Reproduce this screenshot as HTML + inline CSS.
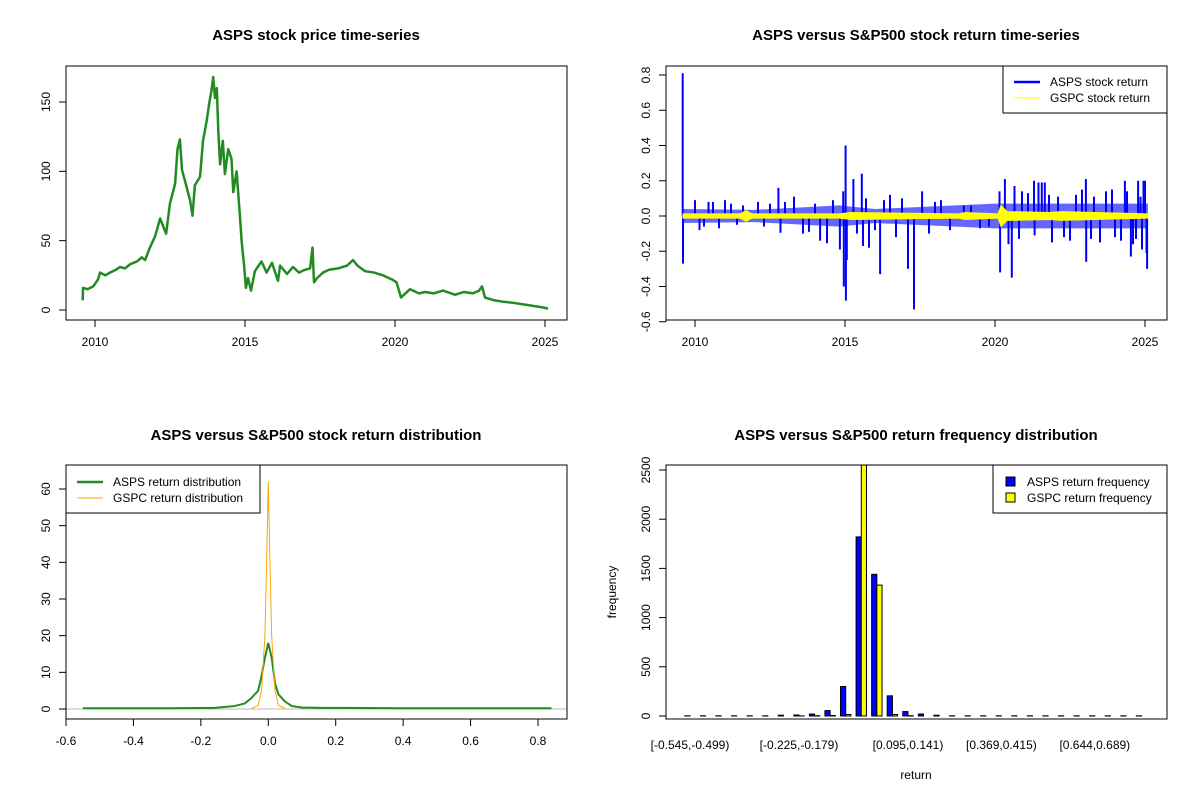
<!DOCTYPE html>
<html><head><meta charset="utf-8"><style>
html,body{margin:0;padding:0;background:#fff}
svg{display:block;font-family:"Liberation Sans",Arial,sans-serif}
</style></head><body>
<svg id="c" width="1200" height="800" viewBox="0 0 1200 800"></svg>
<script>
// ---- Panel 1: ASPS price ----
const priceYears=[2009.59,2009.6,2009.75,2009.94,2010.1,2010.17,2010.35,2010.5,2010.7,2010.83,2011.0,2011.17,2011.4,2011.56,2011.67,2011.83,2012.0,2012.17,2012.37,2012.5,2012.67,2012.75,2012.83,2012.9,2013.0,2013.17,2013.25,2013.33,2013.5,2013.6,2013.72,2013.8,2013.88,2013.94,2014.0,2014.06,2014.11,2014.17,2014.26,2014.33,2014.44,2014.55,2014.61,2014.72,2014.83,2014.89,2014.97,2015.03,2015.1,2015.2,2015.33,2015.55,2015.72,2015.9,2016.1,2016.17,2016.4,2016.6,2016.8,2017.0,2017.17,2017.25,2017.3,2017.4,2017.6,2017.8,2018.1,2018.4,2018.6,2018.75,2019.0,2019.3,2019.6,2019.9,2020.05,2020.2,2020.5,2020.8,2021.0,2021.3,2021.6,2022.0,2022.3,2022.6,2022.8,2022.9,2023.0,2023.3,2023.6,2024.0,2024.3,2024.6,2024.9,2025.1];
const priceVals=[7,16,15,17,22,27,25,27,29,31,30,33,35,38,36,45,53,66,55,77,91,116,123,101,93,79,68,90,96,122,136,148,158,168,153,160,129,105,122,98,116,109,85,100,68,49,32,16,23,14,28,35,27,34,21,32,26,31,27,29,30,45,20,23,27,29,30,32,36,32,28,27,25,22,20,9,15,12,13,12,14,11,13,12,14,17,9,7,6,5,4,3,2,1];
// ---- Panel 2: returns ----
const spikeYears=[2009.59,2009.6,2010.0,2010.3,2010.6,2011.0,2011.4,2012.1,2012.78,2012.85,2013.3,2013.6,2014.17,2014.4,2014.83,2014.94,2014.96,2015.02,2015.03,2015.06,2015.28,2015.56,2015.6,2015.8,2016.17,2016.5,2016.7,2017.1,2017.3,2017.57,2018.2,2018.96,2019.5,2020.15,2020.17,2020.33,2020.45,2020.56,2020.65,2020.9,2021.3,2021.32,2021.45,2021.56,2021.66,2021.9,2022.1,2022.5,2022.7,2023.03,2023.04,2023.3,2023.5,2023.9,2024.2,2024.33,2024.53,2024.6,2024.77,2024.85,2024.9,2024.95,2025.0,2025.07,2025.05,
 2010.15,2010.45,2010.8,2011.2,2011.6,2012.3,2012.5,2013.0,2013.8,2014.0,2014.6,2015.4,2015.7,2016.0,2016.3,2016.9,2017.8,2018.0,2018.5,2019.2,2019.8,2020.8,2021.1,2021.8,2022.3,2022.9,2023.2,2023.7,2024.0,2024.4,2024.7];
const spikeVals=[0.81,-0.27,0.09,-0.06,0.08,0.09,-0.05,0.08,0.16,-0.095,0.11,-0.1,-0.14,-0.155,-0.19,0.14,-0.40,0.40,-0.48,-0.25,0.21,0.24,-0.17,-0.18,-0.33,0.12,-0.12,-0.30,-0.53,0.14,0.09,0.06,-0.07,0.14,-0.32,0.21,-0.16,-0.35,0.17,0.14,0.20,-0.11,0.19,0.19,0.19,-0.15,0.11,-0.14,0.12,0.21,-0.26,0.11,-0.15,0.15,-0.14,0.2,-0.23,-0.16,0.2,0.11,-0.19,0.2,0.2,-0.30,-0.21,
 -0.08,0.08,-0.07,0.07,0.06,-0.06,0.07,0.08,-0.09,0.07,0.09,-0.1,0.1,-0.08,0.09,0.1,-0.1,0.08,-0.08,0.06,-0.06,-0.13,0.13,0.12,-0.12,0.15,-0.13,0.14,-0.12,0.14,-0.13];
const bandYears=[2009.6,2012.0,2014.8,2016.0,2020.0,2025.1];
const bandAmp=[0.04,0.035,0.06,0.04,0.07,0.07];
const gYears=[2009.6,2011.5,2011.7,2011.9,2014.8,2015.2,2018.8,2019.0,2020.1,2020.2,2020.4,2021.8,2022.2,2025.1];
const gAmp=[0.012,0.012,0.03,0.012,0.012,0.02,0.012,0.02,0.012,0.06,0.025,0.02,0.025,0.012];
// ---- Panel 3: densities ----
const dAx=[-0.55,-0.3,-0.16,-0.1,-0.07,-0.05,-0.03,-0.02,-0.01,0,0.01,0.02,0.03,0.05,0.07,0.1,0.16,0.21,0.4,0.84];
const dAy=[0.2,0.2,0.3,0.8,1.5,3,5,9,14,18,14,7,4,2,0.8,0.4,0.3,0.3,0.2,0.2];
const dGx=[-0.05,-0.03,-0.02,-0.01,-0.005,0,0.005,0.01,0.02,0.03,0.05];
const dGy=[0.1,1,5,20,40,62,40,20,5,1,0.1];
// ---- Panel 4: histogram ----
const binLabels=["[-0.545,-0.499)","","","","","","","[-0.225,-0.179)","","","","","","","[0.095,0.141)","","","","","","[0.369,0.415)","","","","","","[0.644,0.689)","","",""];
const freqA=[2,2,2,2,2,2,8,10,20,55,300,1820,1440,205,45,20,8,2,2,2,2,2,2,2,2,2,2,2,2,2];
const freqG=[0,0,0,0,0,0,0,1,3,5,15,2900,1330,15,3,0,0,0,0,0,0,0,0,0,0,0,0,0,0,0];

const svg=document.getElementById('c');const NS='http://www.w3.org/2000/svg';
function mk(tag,attrs,parent,text){const e=document.createElementNS(NS,tag);for(const k in attrs)e.setAttribute(k,attrs[k]);if(text!==undefined)e.textContent=text;(parent||svg).appendChild(e);return e;}
function lin(d0,d1,r0,r1){return v=>r0+(v-d0)*(r1-r0)/(d1-d0);}
function panel(name){const g=mk('g',{});return g;}
function title(g,x,y,t){const e=mk('text',{x:x,y:y,'text-anchor':'middle','font-size':15,'font-weight':'bold'},g,t);}
function box(g,x0,y0,x1,y1){const e=mk('rect',{x:x0,y:y0,width:x1-x0,height:y1-y0,fill:'none',stroke:'#000','stroke-width':1},g);}
function xaxis(g,ticks,fx,y,labels){const a=mk('g',{},g);
 mk('line',{x1:fx(ticks[0]),x2:fx(ticks[ticks.length-1]),y1:y,y2:y,stroke:'#000'},a);
 ticks.forEach((t,i)=>{mk('line',{x1:fx(t),x2:fx(t),y1:y,y2:y+7,stroke:'#000'},a);const e=mk('text',{x:fx(t),y:y+26,'text-anchor':'middle','font-size':12},a,labels[i]);});}
function yaxis(g,ticks,fy,x,labels){const a=mk('g',{},g);
 mk('line',{x1:x,x2:x,y1:fy(ticks[0]),y2:fy(ticks[ticks.length-1]),stroke:'#000'},a);
 ticks.forEach((t,i)=>{mk('line',{x1:x,x2:x-7,y1:fy(t),y2:fy(t),stroke:'#000'},a);const e=mk('text',{x:0,y:0,'text-anchor':'middle','font-size':12,transform:`translate(${x-16},${fy(t)}) rotate(-90)`},a,labels[i]);});}
const years=[2010,2015,2020,2025];

// Panel 1
{const g=panel('price-panel');title(g,316,40,'ASPS stock price time-series');
 const fx=lin(2010,2025,95,545),fy=lin(0,150,310,102);
 const p=mk('polyline',{points:priceYears.map((y,i)=>fx(y)+','+fy(priceVals[i])).join(' '),fill:'none',stroke:'#228B22','stroke-width':2.5,'stroke-linejoin':'round'},g);
 
 box(g,66,66,567,320);xaxis(g,years,fx,320,years.map(String));yaxis(g,[0,50,100,150],fy,66,['0','50','100','150']);}

// Panel 2
{const g=panel('returns-panel');title(g,916,40,'ASPS versus S&P500 stock return time-series');
 const fx=lin(2010,2025,695,1145),fy=lin(0,0.8,216,75);
 const up=bandYears.map((y,i)=>fx(y)+','+fy(bandAmp[i])),dn=bandYears.slice().reverse().map((y,i)=>fx(y)+','+fy(-bandAmp[bandAmp.length-1-i]));
 const b=mk('polygon',{points:up.concat(dn).join(' '),fill:'#0000FF','fill-opacity':0.6},g);
 spikeYears.forEach((y,i)=>{const l=mk('line',{x1:fx(y),x2:fx(y),y1:fy(0),y2:fy(spikeVals[i]),stroke:'#0000FF','stroke-width':2},g);});
 const gu=gYears.map((y,i)=>fx(y)+','+fy(gAmp[i])),gd=gYears.slice().reverse().map((y,i)=>fx(y)+','+fy(-gAmp[gAmp.length-1-i]));
 const yb=mk('polygon',{points:gu.concat(gd).join(' '),fill:'#FFFF00',stroke:'#FFFF00','stroke-width':1},g);
 box(g,666,66,1167,320);xaxis(g,years,fx,320,years.map(String));
 const yt=[-0.6,-0.4,-0.2,0,0.2,0.4,0.6,0.8];yaxis(g,yt,fy,666,yt.map(v=>v.toFixed(1)));
 const lg=mk('g',{},g);
 mk('rect',{x:1003,y:66,width:164,height:47,fill:'#fff',stroke:'#000'},lg);
 mk('line',{x1:1014,x2:1040,y1:82,y2:82,stroke:'#0000FF','stroke-width':2.5},lg);mk('text',{x:1050,y:86,'font-size':12},lg,'ASPS stock return');
 mk('line',{x1:1014,x2:1040,y1:98,y2:98,stroke:'#FFFF00','stroke-width':1},lg);mk('text',{x:1050,y:102,'font-size':12},lg,'GSPC stock return');}

// Panel 3
{const g=panel('density-panel');title(g,316,440,'ASPS versus S&P500 stock return distribution');
 const fx=lin(-0.6,0.8,66,538),fy=lin(0,60,709,489);
 const z=mk('line',{x1:66,x2:567,y1:fy(0),y2:fy(0),stroke:'#bbb'},g);
 const a=mk('polyline',{points:dAx.map((x,i)=>fx(x)+','+fy(dAy[i])).join(' '),fill:'none',stroke:'#228B22','stroke-width':2},g);
 const o=mk('polyline',{points:dGx.map((x,i)=>fx(x)+','+fy(dGy[i])).join(' '),fill:'none',stroke:'#FFA500','stroke-width':1},g);
 box(g,66,465,567,719);const xt=[-0.6,-0.4,-0.2,0,0.2,0.4,0.6,0.8];xaxis(g,xt,fx,719,xt.map(v=>v.toFixed(1)));
 const yt=[0,10,20,30,40,50,60];yaxis(g,yt,fy,66,yt.map(String));
 const lg=mk('g',{},g);
 mk('rect',{x:66,y:465,width:194,height:48,fill:'#fff',stroke:'#000'},lg);
 mk('line',{x1:77,x2:103,y1:482,y2:482,stroke:'#228B22','stroke-width':2.5},lg);mk('text',{x:113,y:486,'font-size':12},lg,'ASPS return distribution');
 mk('line',{x1:77,x2:103,y1:498,y2:498,stroke:'#FFA500','stroke-width':1},lg);mk('text',{x:113,y:502,'font-size':12},lg,'GSPC return distribution');}

// Panel 4
{const g=panel('histogram-panel');title(g,916,440,'ASPS versus S&P500 return frequency distribution');
 const fc=i=>690+15.57*i,bw=5.19,fy=lin(0,2500,716,470);
 const clip=mk('clipPath',{id:'hc'},g);mk('rect',{x:666,y:465,width:501,height:254},clip);
 const bars=mk('g',{'clip-path':'url(#hc)'},g);
 freqA.forEach((v,i)=>{const r=mk('rect',{x:fc(i)-bw,y:fy(v),width:bw,height:fy(0)-fy(v),fill:'#0000FF',stroke:'#000','stroke-width':1},bars);});
 freqG.forEach((v,i)=>{const r=mk('rect',{x:fc(i),y:fy(v),width:bw,height:fy(0)-fy(v),fill:'#FFFF00',stroke:'#000','stroke-width':1},bars);});
 box(g,666,465,1167,719);
 const yt=[0,500,1000,1500,2000,2500];yaxis(g,yt,fy,666,yt.map(String));
 binLabels.forEach((t,i)=>{if(!t)return;const e=mk('text',{x:fc(i),y:749,'text-anchor':'middle','font-size':12},g,t);});
 const xl=mk('text',{x:916,y:779,'text-anchor':'middle','font-size':12},g,'return');
 const yl=mk('text',{x:0,y:0,'text-anchor':'middle','font-size':12,transform:'translate(616,592) rotate(-90)'},g,'frequency');
 const lg=mk('g',{},g);
 mk('rect',{x:993,y:465,width:174,height:48,fill:'#fff',stroke:'#000'},lg);
 mk('rect',{x:1006,y:477,width:9,height:9,fill:'#0000FF',stroke:'#000'},lg);mk('text',{x:1027,y:486,'font-size':12},lg,'ASPS return frequency');
 mk('rect',{x:1006,y:493,width:9,height:9,fill:'#FFFF00',stroke:'#000'},lg);mk('text',{x:1027,y:502,'font-size':12},lg,'GSPC return frequency');}
</script>
</body></html>
